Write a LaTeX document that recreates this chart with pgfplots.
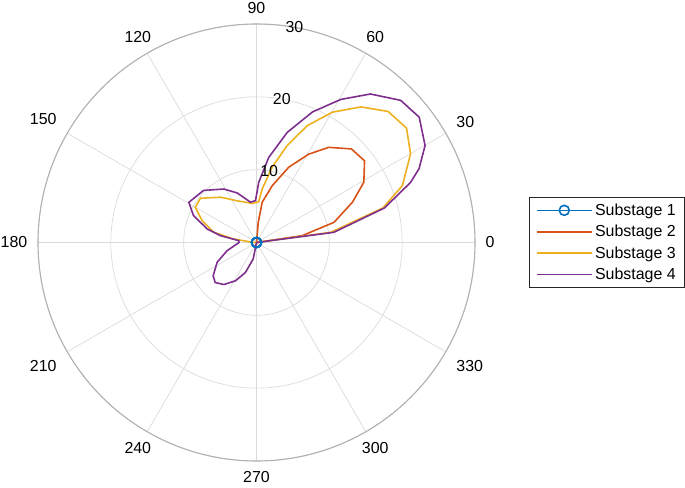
\documentclass[border=0pt]{standalone}
\usepackage{pgfplots}
\pgfplotsset{compat=1.18}
\usepgfplotslibrary{polar}
\usepackage{fontspec}
\setmainfont{Liberation Sans}
\definecolor{mblue}{rgb}{0,0.447,0.741}
\definecolor{morange}{rgb}{0.85,0.325,0.098}
\definecolor{myellow}{rgb}{0.929,0.694,0.125}
\definecolor{mpurple}{rgb}{0.494,0.184,0.556}
\newcommand\ff{\fontsize{16}{19}\selectfont}
\begin{document}
\begin{tikzpicture}
\useasboundingbox (0,0) rectangle (685bp,488bp);
\begin{polaraxis}[
    at={(256.5bp,245.5bp)}, anchor=center,
    scale only axis, width=437bp, height=437bp,
    ymin=0, ymax=30, clip=false,
    xtick={0,30,...,330}, ytick={10,20,30},
    yticklabels={},
    grid=major, major grid style={black!14, line width=0.7bp},
    x axis line style={black!30, line width=1.1bp},
    y axis line style={draw=none},
    major tick length=0pt,
    /pgf/number format/assume math mode=true,
    xticklabel style={font=\ff, anchor=\tick-180, inner sep=10.5bp},
    legend style={at={(1.1236,0.5)}, anchor=west, draw=black!85,
        line width=0.9bp, font=\ff, inner xsep=6.5bp, inner ysep=2.5bp,
        nodes={inner xsep=2.5bp, inner ysep=4.2bp}, row sep=0bp},
    legend cell align=left,
    legend image code/.code={\draw[mark repeat=2,mark phase=2,#1,line width=1.6bp]
        plot coordinates {(0bp,0bp)(27.5bp,0bp)(55bp,0bp)};},
    every axis plot/.append style={line width=1.6bp}
]
\addplot[mblue, mark=o, mark size=5bp, mark options={fill=white}] coordinates {
    (0,0)(90,0)(180,0)(270,0)(360,0)};
\addlegendentry{Substage 1}
\addplot[morange] coordinates {
    (0,0)(8.5,6.35)(14.6,11.0)(22.8,14.3)(29.3,16.9)(37.1,18.6)(44.6,18.3)
    (52.8,16.4)(59.4,14.1)(66.8,11.25)(74.5,8.1)(81.9,5.6)(85,2.8)(90,0)(360,0)};
\addlegendentry{Substage 2}
\addplot[myellow] coordinates {
    (0,0)(7.8,10.3)(15.3,18.0)(21.3,21.5)(29.9,24.4)(37.3,25.9)(44.9,25.5)
    (52.4,23.5)(59.8,20.7)(66.5,17.5)(72.4,14.0)(78.2,10.6)(83.9,7.4)(87,5.6)
    (96,5.4)(114.8,6.3)(128.5,7.95)(141.7,9.8)(150,9.7)(158.1,8.05)
    (166.6,6.0)(171.2,3.2)(178,0.5)(180,0)(360,0)};
\addlegendentry{Substage 3}
\addplot[mpurple] coordinates {
    (0,0)(7.5,10.7)(15.1,18.2)(21.3,22.7)(24.4,24.5)(29.9,26.7)(37.6,28.2)
    (44.6,27.8)(52.5,25.7)(59.5,22.8)(66.8,19.5)(74.4,15.7)(81.8,11.8)
    (87.8,8.3)(91.4,5.75)(98.5,5.6)(111.3,7.3)(121.4,8.6)(135.5,10.2)
    (149.3,10.8)(156.9,9.4)(164.7,7.0)(169.3,5.0)(174,2.45)(180,2.4)
    (195.6,4.2)(206.7,6.05)(217.5,7.5)(224.1,7.9)(232.2,7.3)(241.2,6.0)
    (249.7,4.4)(258.7,2.3)(270,0)(360,0)};
\addlegendentry{Substage 4}
\node[font=\ff] at (axis cs:80,10) {10};
\node[font=\ff] at (axis cs:80,20) {20};
\node[font=\ff] at (axis cs:80,30) {30};
\end{polaraxis}
\end{tikzpicture}
\end{document}
